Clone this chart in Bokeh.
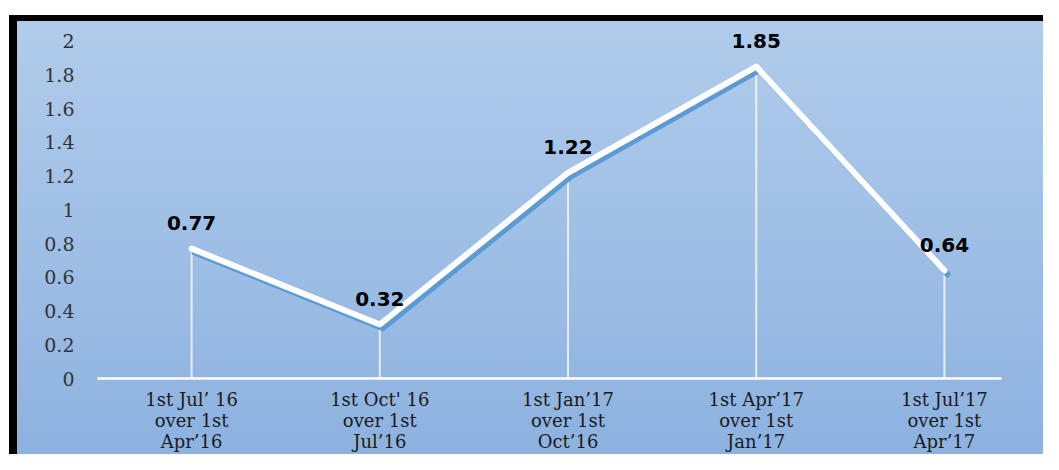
from bokeh.plotting import figure
from bokeh.models import Range1d, FixedTicker, ColumnDataSource
from bokeh.transform import dodge
from bokeh.core.properties import value
from bokeh.embed import file_html
from bokeh.resources import INLINE

categories = [
    "1st Jul\u2019 16\nover 1st\nApr\u201916",
    "1st Oct' 16\nover 1st\nJul\u201916",
    "1st Jan\u201917\nover 1st\nOct\u201916",
    "1st Apr\u201917\nover 1st\nJan\u201917",
    "1st Jul\u201917\nover 1st\nApr\u201917",
]
values = [0.77, 0.32, 1.22, 1.85, 0.64]
value_labels = ["0.77", "0.32", "1.22", "1.85", "0.64"]
y_ticks = [0, 0.2, 0.4, 0.6, 0.8, 1, 1.2, 1.4, 1.6, 1.8, 2]
y_tick_labels = ["0", "0.2", "0.4", "0.6", "0.8", "1", "1.2", "1.4", "1.6", "1.8", "2"]

x_idx = list(range(len(categories)))
source = ColumnDataSource(dict(x=x_idx, y=values, label=value_labels))

p = figure(
    width=1043, height=454,
    x_range=Range1d(-0.5, len(categories) - 0.5),
    y_range=Range1d(0, 2.117),
    output_backend="svg", toolbar_location=None,
    min_border_left=97, min_border_right=5, min_border_top=21, min_border_bottom=72,
)
p.border_fill_color = None
p.background_fill_color = None
p.outline_line_color = None
p.styles = {
    "background": (
        "linear-gradient(to bottom, #ffffff 0px, #ffffff 15px, transparent 15px), "
        "linear-gradient(to right, #ffffff 0px, #ffffff 9px, #000000 9px, #000000 17px, transparent 17px), "
        "linear-gradient(to bottom, #000000 0px, #000000 21px, #b1cceb 21px, #8db2e0 100%)"
    )
}
p.grid.visible = False

# x axis
xa = p.xaxis[0]
xa.ticker = FixedTicker(ticks=x_idx)
xa.major_label_overrides = {i: c for i, c in zip(x_idx, categories)}
xa.axis_line_color = "white"
xa.axis_line_width = 2.5
xa.bounds = (-0.5, 4.306)
xa.major_tick_line_color = None
xa.minor_tick_line_color = None
xa.major_label_standoff = 4
xa.major_label_text_font = "DejaVu Serif"
xa.major_label_text_font_size = "18px"
xa.major_label_text_line_height = 1.0
xa.major_label_text_color = "#1a1a1a"

# y axis
ya = p.yaxis[0]
ya.ticker = FixedTicker(ticks=y_ticks)
ya.major_label_overrides = {t: l for t, l in zip(y_ticks, y_tick_labels)}
ya.axis_line_color = None
ya.major_tick_line_color = None
ya.minor_tick_line_color = None
ya.major_label_standoff = 17
ya.major_label_text_font = "DejaVu Serif"
ya.major_label_text_font_size = "19px"
ya.major_label_text_color = "#333333"

# drop lines
p.segment(x0="x", y0=0, x1="x", y1="y", source=source,
          line_color="white", line_width=2, line_alpha=0.75)
# shadow
p.line(x=dodge("x", 0.016), y=dodge("y", -0.022), source=source,
       line_color="#5b9bd5", line_width=6, line_join="round", line_cap="round")
# main line
p.line(x="x", y="y", source=source, line_color="white", line_width=6,
       line_join="round", line_cap="round")
# data labels
p.text(x="x", y="y", text="label", source=source,
       text_font=value("DejaVu Sans"), text_font_style="bold",
       text_font_size="20px", text_align="center", text_baseline="middle",
       y_offset=-26, text_color="black")

open("out.html", "w").write(file_html(p, INLINE))
